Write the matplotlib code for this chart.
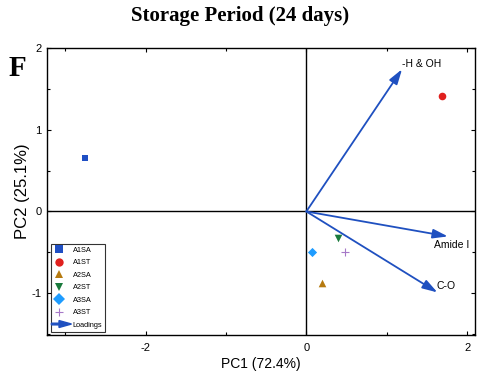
import matplotlib
matplotlib.use("Agg")
import matplotlib.pyplot as plt
from matplotlib.patches import FancyArrow
from matplotlib.legend_handler import HandlerPatch
from matplotlib.lines import Line2D
from matplotlib.ticker import MultipleLocator

plt.rcParams["axes.unicode_minus"] = False

samples = ["A1SA", "A1ST", "A2SA", "A2ST", "A3SA", "A3ST"]
pc1 = [-2.75, 1.69, 0.20, 0.39, 0.075, 0.475]
pc2 = [0.66, 1.415, -0.88, -0.32, -0.49, -0.50]
markers = ["s", "o", "^", "v", "D", "+"]
colors = ["#1f4fc4", "#e0201e", "#b67a10", "#1a7a3c", "#1e9cff", "#a678c8"]
sizes = [22, 30, 30, 30, 22, 40]

loading_names = ["-H & OH", "Amide I", "C-O"]
load_x = [1.19, 1.76, 1.63]
load_y = [1.74, -0.305, -0.99]
arrow_color = "#1f50c0"

fig = plt.figure(figsize=(4.8, 3.78), dpi=100)
ax = fig.add_axes([0.098, 0.114, 0.892, 0.759])
ax.set_xlim(-3.225, 2.1)
ax.set_ylim(-1.51, 2.0)

ax.axhline(0, color="black", lw=1.0, zorder=1)
ax.axvline(0, color="black", lw=1.0, zorder=1)

handles = []
for s, x, y, m, c, sz in zip(samples, pc1, pc2, markers, colors, sizes):
    ax.scatter([x], [y], marker=m, s=sz, color=c, linewidths=0.8 if m == "+" else 0, zorder=3)
    handles.append(Line2D([], [], marker=m, color=c, linestyle="none", markersize=6,
                          markeredgewidth=0.8 if m == "+" else 0, label=s))

for name, x, y in zip(loading_names, load_x, load_y):
    ax.annotate("", xy=(x, y), xytext=(0, 0),
                arrowprops=dict(arrowstyle="-|>,head_length=0.9,head_width=0.28",
                                color=arrow_color, lw=1.3, shrinkA=0, shrinkB=0), zorder=2)

ax.text(1.43, 1.81, "-H & OH", fontsize=7.5, family="Liberation Sans", ha="center", va="center")
ax.text(1.81, -0.41, "Amide I", fontsize=7.5, family="Liberation Sans", ha="center", va="center")
ax.text(1.74, -0.91, "C-O", fontsize=7.5, family="Liberation Sans", ha="center", va="center")

class HandlerArrow(HandlerPatch):
    def create_artists(self, legend, orig_handle, xdescent, ydescent, width, height, fontsize, trans):
        a = FancyArrow(-xdescent - 1.5, height / 2 - ydescent, width + 6, 0, width=1.2,
                       head_width=5, head_length=9, length_includes_head=True,
                       color=arrow_color)
        a.set_transform(trans)
        return [a]

arrow_handle = FancyArrow(0, 0, 1, 0, color=arrow_color)
handles.append(arrow_handle)
labels = samples + ["Loadings"]
leg = ax.legend(handles, labels, loc="lower left", bbox_to_anchor=(0.003, 0.004),
                prop={"family": "Liberation Sans", "size": 5.3}, frameon=True, fancybox=False,
                edgecolor="black", borderpad=0.4, labelspacing=0.72, handlelength=1.6,
                handletextpad=1.0, borderaxespad=0.3,
                handler_map={FancyArrow: HandlerArrow()})
leg.get_frame().set_linewidth(0.8)

ax.xaxis.set_major_locator(MultipleLocator(2))
ax.xaxis.set_minor_locator(MultipleLocator(1))
ax.yaxis.set_major_locator(MultipleLocator(1))
ax.yaxis.set_minor_locator(MultipleLocator(0.5))
ax.tick_params(axis="both", which="both", direction="in", top=True, right=True, width=0.8)
ax.tick_params(which="major", length=3, labelsize=8)
ax.tick_params(which="minor", length=2)
for lab in ax.get_xticklabels() + ax.get_yticklabels():
    lab.set_family("Liberation Sans")
ax.tick_params(axis="x", pad=6)
ax.tick_params(axis="y", pad=4)
for sp in ax.spines.values():
    sp.set_linewidth(1.0)

ax.set_xlabel("PC1 (72.4%)", fontsize=10, family="Liberation Sans", labelpad=3)
ax.set_ylabel("PC2 (25.1%)", fontsize=12, family="Liberation Sans", labelpad=1)

fig.text(0.5, 0.958, "Storage Period (24 days)", ha="center", va="center",
         fontsize=15, fontweight="bold", family="Liberation Serif")
fig.text(0.036, 0.82, "F", ha="center", va="center", fontsize=21, fontweight="bold",
         family="Liberation Serif")

fig.savefig("out.png", dpi=100)
